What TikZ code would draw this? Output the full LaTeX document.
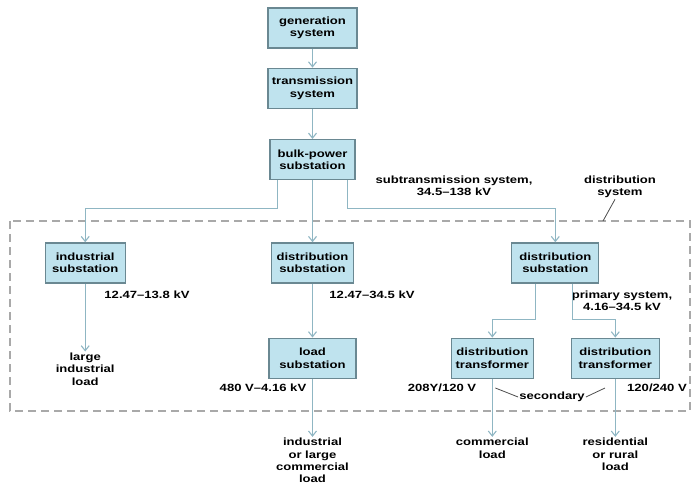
\documentclass[tikz,border=0pt]{standalone}
\usepackage{fontspec}
\setmainfont{Liberation Sans}[FakeStretch=1.25]
\usepackage{tikz}
\usetikzlibrary{positioning,arrows.meta}
\definecolor{boxfill}{HTML}{BFE3EE}
\definecolor{boxline}{HTML}{6A8892}
\definecolor{wire}{HTML}{8FB6C3}
\definecolor{zone}{HTML}{A9A9A9}
\newcommand{\lbl}{\bfseries\fontsize{10.5}{12.5}\selectfont}
\tikzset{
  unit/.style={draw=boxline, fill=boxfill, line width=1.3bp, align=center, font=\lbl,
               inner sep=2bp, minimum width=#1, minimum height=40bp},
  unit/.default=88bp,
  lbl/.style={align=center, font=\lbl, inner sep=1bp},
  feed/.style={-{Straight Barb[length=5bp,width=8bp]}, line width=1.1bp, draw=wire},
  region/.style={draw=zone, line width=1.1bp, dash pattern=on 8bp off 5bp},
  leader/.style={draw=black!70, line width=0.8bp},
}

\begin{document}
\begin{tikzpicture}[x=1bp, y=-1bp, node distance=19bp]
  \useasboundingbox (0,0) rectangle (695,486);

  % --- supply
  \node[unit=89bp] (gen) at (312.5,28) {generation\\system};
  \node[unit=89bp, below=of gen] (trans) {transmission\\system};
  \node[unit=85bp, below=30bp of trans] (bulk) {bulk-power\\substation};

  % --- substations
  \node[unit=82bp, below=62bp of bulk] (dsm) {distribution\\substation};
  \node[unit=80bp, left=145bp of dsm] (ind) {industrial\\substation};
  \node[unit=87bp, right=157bp of dsm] (dsr) {distribution\\substation};
  \node[unit=87bp, below=54bp of dsm] (ldsub) {load\\substation};
  \node[unit=82bp, below=54bp of dsr, xshift=-63bp] (dtl) {distribution\\transformer};
  \node[unit=88bp, below=54bp of dsr, xshift=60bp] (dtr) {distribution\\transformer};

  % --- loads
  \node[lbl, below=68bp of ind] (bigind) {large\\industrial\\load};
  \node[lbl, below=58bp of ldsub] (icl) {industrial\\or large\\commercial\\load};
  \node[lbl, below=58bp of dtl] (coml) {commercial\\load};
  \node[lbl, below=58bp of dtr] (resl) {residential\\or rural\\load};

  % --- voltages
  \node[lbl] (v1) at (147,295) {12.47–13.8 kV};
  \node[lbl] (v2) at (372,295) {12.47–34.5 kV};
  \node[lbl] (v3) at (263,388) {480 V–4.16 kV};
  \node[lbl] (v4) at (442,388) {208Y/120 V};
  \node[lbl] (v5) at (657,388) {120/240 V};
  \node[lbl] (sec) at (552,397) {secondary};
  \node[lbl] (subtx) at (454,186) {subtransmission system,\\34.5–138 kV};
  \node[lbl] (dslbl) at (620,187) {distribution\\system};
  \node[lbl] (prim) at (622,301) {primary system,\\4.16–34.5 kV};

  % --- distribution system
  \draw[region] (10,221) rectangle (690,411);
  \coordinate (dsmark) at (603,221);

  % --- flows
  \draw[feed] (gen) -- (trans);
  \draw[feed] (trans) -- (bulk);
  \draw[feed] ([xshift=-35bp]bulk.south) -- ++(0,28) -| (ind.north);
  \draw[feed] (bulk) -- (dsm);
  \draw[feed] ([xshift=35bp]bulk.south) -- ++(0,28) -| (dsr.north);
  \draw[feed] (dsm) -- (ldsub);
  \draw[feed] ([xshift=-20bp]dsr.south) -- ++(0,36) -| (dtl.north);
  \draw[feed] ([xshift=17bp]dsr.south) -- ++(0,36) -| (dtr.north);
  \draw[feed] (ind) -- (bigind);
  \draw[feed] (ldsub) -- (icl);
  \draw[feed] (dtl) -- (coml);
  \draw[feed] (dtr) -- (resl);
  \draw[leader] (sec.west) -- ([xshift=18bp]v4.east);
  \draw[leader] (sec.east) -- ([xshift=-21bp]v5.west);
  \draw[leader] ([xshift=-5bp]dslbl.south) -- (dsmark);
\end{tikzpicture}
\end{document}
